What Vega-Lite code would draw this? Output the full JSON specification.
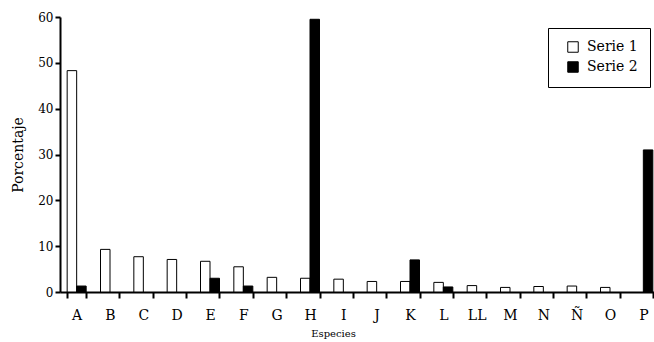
{
  "$schema": "https://vega.github.io/schema/vega-lite/v6.json",
  "width": 594,
  "height": 275,
  "autosize": {"type": "none"},
  "padding": {"left": 60, "top": 17, "right": 0, "bottom": 50},
  "background": "white",
  "config": {
    "view": {"stroke": null},
    "font": "DejaVu Serif",
    "legend": {"labelFont": "DejaVu Serif", "labelFontSize": 14, "labelColor": "black"},
    "axis": {"domainColor": "black", "domainWidth": 2, "tickColor": "black", "tickWidth": 2, "labelColor": "black", "titleColor": "black", "grid": false, "titleFontWeight": "normal", "labelFont": "DejaVu Serif", "titleFont": "DejaVu Serif"}
  },
  "data": {
    "values": [
      {"especie": "A", "serie": "Serie 1", "valor": 48.3},
      {"especie": "A", "serie": "Serie 2", "valor": 1.3},
      {"especie": "B", "serie": "Serie 1", "valor": 9.3},
      {"especie": "C", "serie": "Serie 1", "valor": 7.7},
      {"especie": "D", "serie": "Serie 1", "valor": 7.1},
      {"especie": "E", "serie": "Serie 1", "valor": 6.7},
      {"especie": "E", "serie": "Serie 2", "valor": 3.0},
      {"especie": "F", "serie": "Serie 1", "valor": 5.5},
      {"especie": "F", "serie": "Serie 2", "valor": 1.3},
      {"especie": "G", "serie": "Serie 1", "valor": 3.2},
      {"especie": "H", "serie": "Serie 1", "valor": 3.0},
      {"especie": "H", "serie": "Serie 2", "valor": 59.5},
      {"especie": "I", "serie": "Serie 1", "valor": 2.8},
      {"especie": "J", "serie": "Serie 1", "valor": 2.3},
      {"especie": "K", "serie": "Serie 1", "valor": 2.3},
      {"especie": "K", "serie": "Serie 2", "valor": 7.0},
      {"especie": "L", "serie": "Serie 1", "valor": 2.1},
      {"especie": "L", "serie": "Serie 2", "valor": 1.1},
      {"especie": "LL", "serie": "Serie 1", "valor": 1.4},
      {"especie": "M", "serie": "Serie 1", "valor": 1.0},
      {"especie": "N", "serie": "Serie 1", "valor": 1.2},
      {"especie": "Ñ", "serie": "Serie 1", "valor": 1.3},
      {"especie": "O", "serie": "Serie 1", "valor": 1.0},
      {"especie": "P", "serie": "Serie 2", "valor": 31.0}
    ]
  },
  "mark": {"type": "bar", "stroke": "black", "strokeWidth": 1},
  "encoding": {
    "x": {
      "field": "especie",
      "type": "nominal",
      "sort": ["A","B","C","D","E","F","G","H","I","J","K","L","LL","M","N","Ñ","O","P"],
      "scale": {"domain": ["A","B","C","D","E","F","G","H","I","J","K","L","LL","M","N","Ñ","O","P"], "range": [0, 600], "paddingInner": 0.43, "paddingOuter": 0.215},
      "axis": {"title": "Especies", "titleFontSize": 10, "titleX": 273, "titlePadding": 6, "labelAngle": 0, "labelFontSize": 14, "tickBand": "extent", "tickSize": 6, "labelPadding": 10}
    },
    "xOffset": {"field": "serie", "type": "nominal", "scale": {"domain": ["Serie 1", "Serie 2"], "paddingInner": 0, "paddingOuter": 0}},
    "y": {
      "field": "valor",
      "type": "quantitative",
      "scale": {"domain": [0, 60]},
      "axis": {"title": "Porcentaje", "titleFontSize": 14, "titlePadding": 12, "values": [0, 10, 20, 30, 40, 50, 60], "labelFontSize": 12, "tickSize": 5, "labelPadding": 2}
    },
    "fill": {
      "field": "serie",
      "type": "nominal",
      "scale": {"domain": ["Serie 1", "Serie 2"], "range": ["white", "black"]},
      "legend": {
        "title": null,
        "orient": "none",
        "legendX": 488,
        "legendY": 11,
        "symbolType": "square",
        "symbolSize": 110,
        "symbolStrokeColor": "black",
        "symbolStrokeWidth": 1,
        "symbolOffset": 6,
        "labelFontSize": 14,
        "labelColor": "black",
        "labelFont": "DejaVu Serif",
        "strokeColor": "black",
        "padding": 12,
        "rowPadding": 4,
        "labelOffset": 7
      }
    }
  }
}
